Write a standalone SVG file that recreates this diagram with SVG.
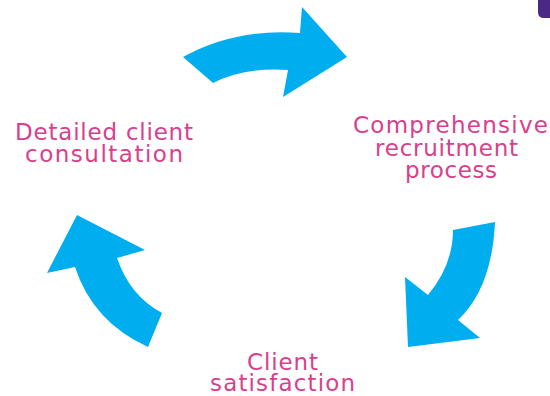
<svg xmlns="http://www.w3.org/2000/svg" width="550" height="396" viewBox="0 0 550 396">
<style>
.arr{fill:#00aeef}
.lbl{font-family:"DejaVu Sans","Verdana",sans-serif;font-size:23px;fill:#d9408c;text-anchor:middle}
</style>
<rect width="550" height="396" fill="#ffffff"/>
<path d="M538,0 H550 V18 H544 Q538,18 538,12 Z" fill="#4a2883"/>
<g id="connectors">
<path class="arr" d="M183,57 Q235,28 300,33 L302,7 L347,57 L283,97 L288,70 Q245,67 213,83 Z"/>
<path class="arr" d="M495,222 Q492,288 458,320 L480,338 L408,347 L405,277 L428,295 Q453,265 453,230 Z"/>
<path class="arr" d="M77,215 L145,250 L117,258 Q130,296 162,313 L148,347 Q93,322 75,267 L47,273 Z"/>
</g>
<g id="node-consultation">
<text class="lbl" x="104" y="140" textLength="178" lengthAdjust="spacing">Detailed client</text>
<text class="lbl" x="104" y="162" textLength="158" lengthAdjust="spacing">consultation</text>
</g>
<g id="node-recruitment">
<text class="lbl" x="450.5" y="133" textLength="195" lengthAdjust="spacing">Comprehensive</text>
<text class="lbl" x="446.5" y="156" textLength="143" lengthAdjust="spacing">recruitment</text>
<text class="lbl" x="451" y="178" textLength="92" lengthAdjust="spacing">process</text>
</g>
<g id="node-satisfaction">
<text class="lbl" x="282.5" y="370" textLength="71" lengthAdjust="spacing">Client</text>
<text class="lbl" x="282.5" y="391" textLength="145" lengthAdjust="spacing">satisfaction</text>
</g>
</svg>
